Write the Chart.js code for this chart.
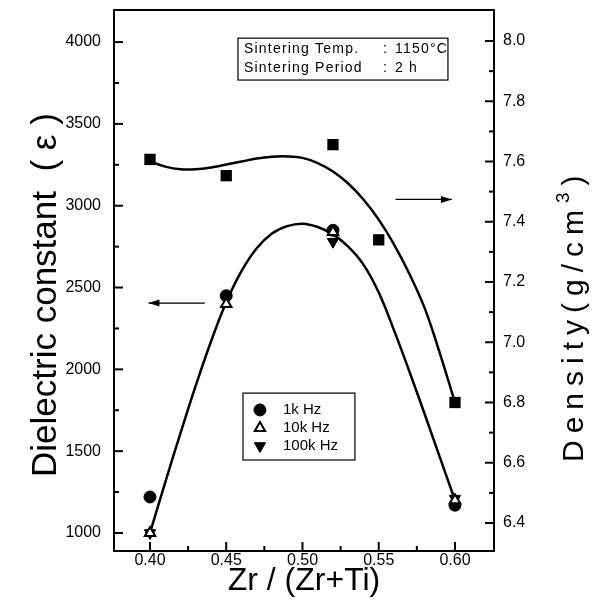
<!DOCTYPE html>
<html><head><meta charset="utf-8">
<script src="https://cdn.jsdelivr.net/npm/chart.js@4/dist/chart.umd.min.js"></script>
<style>html,body{margin:0;padding:0;background:#fff}#wrap{width:599px;height:613px}</style>
</head><body><div id="wrap"><canvas id="c" width="599" height="613"></canvas></div>
<script>
// ---- data ----
const compositions = [0.40, 0.45, 0.52, 0.60];
const eps1k   = [1220, 2450, 2850, 1170];
const eps10k  = [1000, 2400, 2840, 1200];
const eps100k = [1000, 2440, 2780, 1210];
const densityX = [0.40, 0.45, 0.52, 0.55, 0.60];
const density  = [7.607, 7.553, 7.656, 7.34, 6.80];
// fitted curves
const fitX = [0.40,0.41,0.42,0.43,0.44,0.45,0.46,0.47,0.48,0.49,0.50,0.51,0.52,0.53,0.54,0.55,0.56,0.57,0.58,0.59,0.60];
const epsFit  = [1000,1310,1610,1900,2170,2410,2600,2740,2830,2875,2890,2870,2825,2750,2640,2470,2240,1990,1730,1465,1200];
const densFit = [7.60,7.583,7.574,7.574,7.58,7.59,7.60,7.61,7.616,7.617,7.612,7.595,7.567,7.527,7.474,7.407,7.325,7.228,7.115,6.965,6.80];
// tick labels
const xTickValues = [0.40, 0.45, 0.50, 0.55, 0.60];
const xMinorTicks = [0.425, 0.475, 0.525, 0.575];
const epsTickValues = [1000, 1500, 2000, 2500, 3000, 3500, 4000];
const epsMinorTicks = [1250, 1750, 2250, 2750, 3250, 3750];
const densTickValues = [6.4, 6.6, 6.8, 7.0, 7.2, 7.4, 7.6, 7.8, 8.0];
const densMinorTicks = [6.5, 6.7, 6.9, 7.1, 7.3, 7.5, 7.7, 7.9];
const legendLabels = ['1k Hz', '10k Hz', '100k Hz'];
const infoLines = [['Sintering Temp.', '1150\u00B0C'], ['Sintering Period', '2 h']];

const FONT = "'Liberation Sans', Arial, sans-serif";
const pts = (xs, ys) => xs.map((x, i) => ({x, y: ys[i]}));
const noPad = s => { s.paddingTop = 0; s.paddingBottom = 0; s.paddingLeft = 0; s.paddingRight = 0; };

const decor = {
  id: 'decor',
  afterDraw(chart) {
    const {ctx, chartArea: a, scales} = chart;
    const xs = scales.x, ys = scales.y, y2 = scales.y1;
    ctx.save();
    ctx.strokeStyle = '#000'; ctx.fillStyle = '#000';
    // frame
    ctx.lineWidth = 2;
    ctx.strokeRect(a.left, a.top, a.right - a.left, a.bottom - a.top);
    // inward ticks
    const tick = (x1, y1, x2, y2_) => { ctx.beginPath(); ctx.moveTo(x1, y1); ctx.lineTo(x2, y2_); ctx.stroke(); };
    xTickValues.forEach(v => { const p = xs.getPixelForValue(v); tick(p, a.bottom, p, a.bottom - 9); });
    xMinorTicks.forEach(v => { const p = xs.getPixelForValue(v); tick(p, a.bottom, p, a.bottom - 5); });
    epsTickValues.forEach(v => { const p = ys.getPixelForValue(v); tick(a.left, p, a.left + 9, p); });
    epsMinorTicks.forEach(v => { const p = ys.getPixelForValue(v); tick(a.left, p, a.left + 5, p); });
    densTickValues.forEach(v => { const p = y2.getPixelForValue(v); tick(a.right, p, a.right - 9, p); });
    densMinorTicks.forEach(v => { const p = y2.getPixelForValue(v); tick(a.right, p, a.right - 5, p); });
    // arrows
    const arrow = (x1, x2, y, left) => {
      ctx.lineWidth = 1.3;
      tick(x1, y, x2, y);
      const d = left ? 1 : -1;
      ctx.beginPath(); ctx.moveTo(x2, y); ctx.lineTo(x2 + d * 11, y - 3.5); ctx.lineTo(x2 + d * 11, y + 3.5); ctx.closePath(); ctx.fill();
    };
    arrow(xs.getPixelForValue(0.436), xs.getPixelForValue(0.399), ys.getPixelForValue(2405), true);
    arrow(xs.getPixelForValue(0.561), xs.getPixelForValue(0.598), y2.getPixelForValue(7.474), false);
    // info box
    const bx1 = xs.getPixelForValue(0.4577), bx2 = xs.getPixelForValue(0.5954);
    const by1 = ys.getPixelForValue(4024), by2 = ys.getPixelForValue(3768);
    ctx.lineWidth = 1.2;
    ctx.strokeRect(bx1, by1, bx2 - bx1, by2 - by1);
    ctx.font = '14px ' + FONT;
    ctx.textBaseline = 'middle'; ctx.textAlign = 'left';
    if ('letterSpacing' in ctx) ctx.letterSpacing = '1.2px';
    const colonX = xs.getPixelForValue(0.5528), valX = xs.getPixelForValue(0.5607);
    infoLines.forEach((ln, i) => {
      const yy = by1 + 11 + i * 19;
      ctx.fillText(ln[0], bx1 + 6, yy);
      ctx.fillText(':', colonX, yy);
      ctx.fillText(ln[1], valX, yy);
    });
    if ('letterSpacing' in ctx) ctx.letterSpacing = '0px';
    // legend box
    const lx1 = xs.getPixelForValue(0.461), lx2 = xs.getPixelForValue(0.5344);
    const ly1 = ys.getPixelForValue(1855), ly2 = ys.getPixelForValue(1446);
    ctx.lineWidth = 1.2;
    ctx.strokeRect(lx1, ly1, lx2 - lx1, ly2 - ly1);
    const mx = xs.getPixelForValue(0.4721), tx = xs.getPixelForValue(0.4872);
    const rows = [1752, 1642, 1532];
    ctx.font = '15px ' + FONT;
    [0, 1, 2].forEach(i => {
      const ds = chart.data.datasets.find(d => d.label === legendLabels[i]);
      const yy = ys.getPixelForValue(rows[i]);
      ctx.save();
      ctx.fillStyle = ds.pointBackgroundColor; ctx.strokeStyle = ds.pointBorderColor; ctx.lineWidth = ds.pointBorderWidth;
      Chart.helpers.drawPoint(ctx, {pointStyle: ds.pointStyle, radius: ds.pointRadius, rotation: ds.pointRotation || 0, borderWidth: ds.pointBorderWidth}, mx, yy);
      ctx.restore();
      ctx.fillStyle = '#000';
      ctx.fillText(legendLabels[i], tx, yy);
    });
    // right axis title (reads bottom to top)
    ctx.save();
    ctx.translate(583, 462);
    ctx.rotate(-Math.PI / 2);
    ctx.textBaseline = 'alphabetic'; ctx.textAlign = 'left';
    ctx.font = '30px ' + FONT;
    if ('letterSpacing' in ctx) ctx.letterSpacing = '7px';
    const t1 = 'Density(g/cm';
    ctx.fillText(t1, 0, 0);
    let w = ctx.measureText(t1).width;
    ctx.font = '19px ' + FONT;
    ctx.fillText('3', w, -14);
    w += ctx.measureText('3').width;
    ctx.font = '30px ' + FONT;
    ctx.fillText(')', w, 0);
    ctx.restore();
    ctx.restore();
  }
};

const tickFont = {family: FONT, size: 16};
new Chart(document.getElementById('c'), {
  type: 'scatter',
  data: {
    datasets: [
      {label: '10k Hz', data: pts(compositions, eps10k), yAxisID: 'y', pointStyle: 'triangle', pointRadius: 6, pointBackgroundColor: '#fff', pointBorderColor: '#000', pointBorderWidth: 2},
      {label: '1k Hz', data: pts(compositions, eps1k), yAxisID: 'y', pointStyle: 'circle', pointRadius: 6, pointBackgroundColor: '#000', pointBorderColor: '#000', pointBorderWidth: 1},
      {label: '100k Hz', data: pts(compositions, eps100k), yAxisID: 'y', pointStyle: 'triangle', pointRotation: 180, pointRadius: 6.5, pointBackgroundColor: '#000', pointBorderColor: '#000', pointBorderWidth: 1},
      {label: 'Density', data: pts(densityX, density), yAxisID: 'y1', pointStyle: 'rect', pointRadius: 8, pointBackgroundColor: '#000', pointBorderColor: '#000', pointBorderWidth: 0},
      {label: 'eps fit', data: pts(fitX, epsFit), yAxisID: 'y', showLine: true, pointRadius: 0, borderColor: '#000', borderWidth: 2.5, tension: 0.4},
      {label: 'density fit', data: pts(fitX, densFit), yAxisID: 'y1', showLine: true, pointRadius: 0, borderColor: '#000', borderWidth: 2.5, tension: 0.4}
    ]
  },
  options: {
    responsive: false, animation: false, devicePixelRatio: 1,
    layout: {padding: {top: 10, left: 0, right: 0, bottom: 0}},
    plugins: {legend: {display: false}, tooltip: {enabled: false}},
    scales: {
      x: {
        type: 'linear', min: 0.3764, max: 0.6256,
        afterBuildTicks: s => { s.ticks = xTickValues.map(v => ({value: v})); },
        afterFit: s => { s.height = 62; noPad(s); },
        grid: {display: false, drawTicks: false},
        border: {display: true, color: '#000', width: 2},
        ticks: {color: '#000', font: tickFont, padding: 0, maxRotation: 0, autoSkip: false, callback: v => Number(v).toFixed(2)},
        title: {display: true, text: 'Zr / (Zr+Ti)', color: '#000', font: {family: FONT, size: 32}, padding: {top: 0, bottom: 13}}
      },
      y: {
        type: 'linear', position: 'left', min: 890, max: 4196,
        afterBuildTicks: s => { s.ticks = epsTickValues.map(v => ({value: v})); },
        afterFit: s => { s.width = 114; noPad(s); },
        grid: {display: false, drawTicks: false},
        border: {display: true, color: '#000', width: 2},
        ticks: {color: '#000', font: tickFont, padding: 13, autoSkip: false, callback: v => String(v)},
        title: {display: true, text: 'Dielectric constant  ( \u03B5 )\u00A0\u00A0\u00A0', color: '#000', font: {family: FONT, size: 35}, padding: {top: 25, bottom: 0}}
      },
      y1: {
        type: 'linear', position: 'right', min: 6.307, max: 8.103,
        afterBuildTicks: s => { s.ticks = densTickValues.map(v => ({value: v})); },
        afterFit: s => { s.width = 105; noPad(s); },
        grid: {display: false, drawTicks: false},
        border: {display: true, color: '#000', width: 2},
        ticks: {color: '#000', font: tickFont, padding: 9, autoSkip: false, callback: v => Number(v).toFixed(1)}
      }
    }
  },
  plugins: [decor]
});
</script></body></html>
